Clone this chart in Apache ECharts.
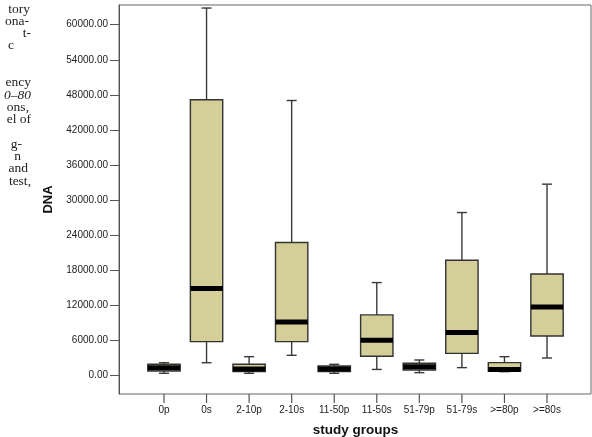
<!DOCTYPE html>
<html>
<head>
<meta charset="utf-8">
<script src="https://cdn.jsdelivr.net/npm/echarts@6/dist/echarts.min.js"></script>
<style>
html, body { margin: 0; padding: 0; background: #fff; }
#chart { width: 592px; height: 437px; }
</style>
</head>
<body>
<div id="chart"></div>
<script>
// box plot values (DNA per study group)
var groups = ['0p', '0s', '2-10p', '2-10s', '11-50p', '11-50s', '51-79p', '51-79s', '>=80p', '>=80s'];
var lowWhisker = [290, 2100, 290, 3370, 290, 950, 400, 1260, 570, 2910];
var lowerQuart = [690, 5710, 570, 5710, 570, 3200, 860, 3710, 690, 6690];
var medians = [1250, 14800, 1030, 9090, 1030, 5940, 1430, 7260, 940, 11660];
var upperQuart = [1830, 47140, 1830, 22690, 1540, 10290, 2000, 19660, 2110, 17310];
var highWhisker = [2110, 62860, 3140, 47020, 1830, 15830, 2570, 27830, 3140, 32690];
var yTicks = [0, 6000, 12000, 18000, 24000, 30000, 36000, 42000, 48000, 54000, 60000];

// scraps of the article column cut off at the left of the scan
var sideText = ['tory', 'ona-', 't-', 'c', '', '', 'ency', '0\u201380', 'ons,', 'el of', '', 'g-', 'n', 'and', 'test,'];
var sideRight = [30, 29, 31, 14, 0, 0, 31, 31, 29, 31, 0, 22, 21, 28, 31];

var yMin = -3257;
var yMax = 63380;

var boxData = [];
for (var i = 0; i < groups.length; i++) {
    boxData.push([i, lowWhisker[i], lowerQuart[i], medians[i], upperQuart[i], highWhisker[i]]);
}

function renderBox(params, api) {
    var idx = api.value(0);
    var pMax = api.coord([idx, api.value(5)]);
    var pQ3 = api.coord([idx, api.value(4)]);
    var pMed = api.coord([idx, api.value(3)]);
    var pQ1 = api.coord([idx, api.value(2)]);
    var pMin = api.coord([idx, api.value(1)]);
    var base = api.coord([idx, yMin])[1];
    var cx = pMax[0];
    var bw = api.size([1, 0])[0] * 0.76;
    var cap = 5;
    var ls = { stroke: '#3a3a3a', lineWidth: 1.4 };
    return {
        type: 'group',
        children: [
            // category tick under the frame
            { type: 'line', shape: { x1: cx, y1: base, x2: cx, y2: base + 9 }, style: { stroke: '#555', lineWidth: 1.2 } },
            { type: 'line', shape: { x1: cx, y1: pQ3[1], x2: cx, y2: pMax[1] }, style: ls },
            { type: 'line', shape: { x1: cx, y1: pQ1[1], x2: cx, y2: pMin[1] }, style: ls },
            { type: 'line', shape: { x1: cx - cap, y1: pMax[1], x2: cx + cap, y2: pMax[1] }, style: ls },
            { type: 'line', shape: { x1: cx - cap, y1: pMin[1], x2: cx + cap, y2: pMin[1] }, style: ls },
            {
                type: 'rect',
                shape: { x: cx - bw / 2, y: pQ3[1], width: bw, height: pQ1[1] - pQ3[1] },
                style: { fill: '#d4cf99', stroke: '#333', lineWidth: 1.4 }
            },
            {
                type: 'rect',
                shape: { x: cx - bw / 2, y: pMed[1] - 2.5, width: bw, height: 5 },
                style: { fill: '#000' }
            }
        ]
    };
}

var graphics = [];
for (var k = 0; k < sideText.length; k++) {
    if (!sideText[k]) continue;
    graphics.push({
        type: 'text',
        x: sideRight[k],
        y: 9 + k * 12.3,
        style: {
            text: sideText[k],
            font: (k == 7 ? 'italic ' : '') + '13.5px "Liberation Serif", "DejaVu Serif", serif',
            fill: '#222',
            align: 'right',
            verticalAlign: 'middle'
        }
    });
}

var chart = echarts.init(document.getElementById('chart'), null, { renderer: 'canvas' });
var option = {
    animation: false,
    textStyle: { fontFamily: '"Liberation Sans", Arial, sans-serif' },
    graphic: graphics,
    grid: [
        { left: 119, right: 1, top: 5, bottom: 43, outerBoundsMode: 'none', show: true, borderColor: '#666', borderWidth: 1 },
        { left: 142.7, right: 23.7, top: 5, bottom: 43, outerBoundsMode: 'none' }
    ],
    xAxis: [
        { gridIndex: 0, type: 'value', show: false },
        {
            gridIndex: 1,
            type: 'category',
            data: groups,
            axisLine: { show: false, onZero: false },
            axisTick: { show: false },
            axisLabel: { interval: 0, fontSize: 10, color: '#222', margin: 11 },
            name: 'study groups',
            nameLocation: 'middle',
            nameGap: 29,
            nameTextStyle: { fontSize: 13.5, fontWeight: 'bold', color: '#111' }
        }
    ],
    yAxis: [
        {
            gridIndex: 0,
            type: 'value',
            min: yMin,
            max: yMax,
            axisLine: { show: true, lineStyle: { color: '#555' } },
            axisTick: { show: true, length: 9, customValues: yTicks, lineStyle: { color: '#555' } },
            axisLabel: {
                customValues: yTicks,
                fontSize: 10,
                color: '#222',
                margin: 11,
                formatter: function (v) { return v.toFixed(2); }
            },
            splitLine: { show: false },
            name: 'DNA',
            nameLocation: 'middle',
            nameGap: 57,
            nameTextStyle: { fontSize: 13, fontWeight: 'bold', color: '#111' }
        },
        { gridIndex: 1, type: 'value', min: yMin, max: yMax, show: false }
    ],
    series: [
        {
            type: 'custom',
            xAxisIndex: 1,
            yAxisIndex: 1,
            renderItem: renderBox,
            encode: { x: 0, y: [1, 2, 3, 4, 5] },
            data: boxData,
            clip: false
        }
    ]
};
chart.setOption(option);
</script>
</body>
</html>
